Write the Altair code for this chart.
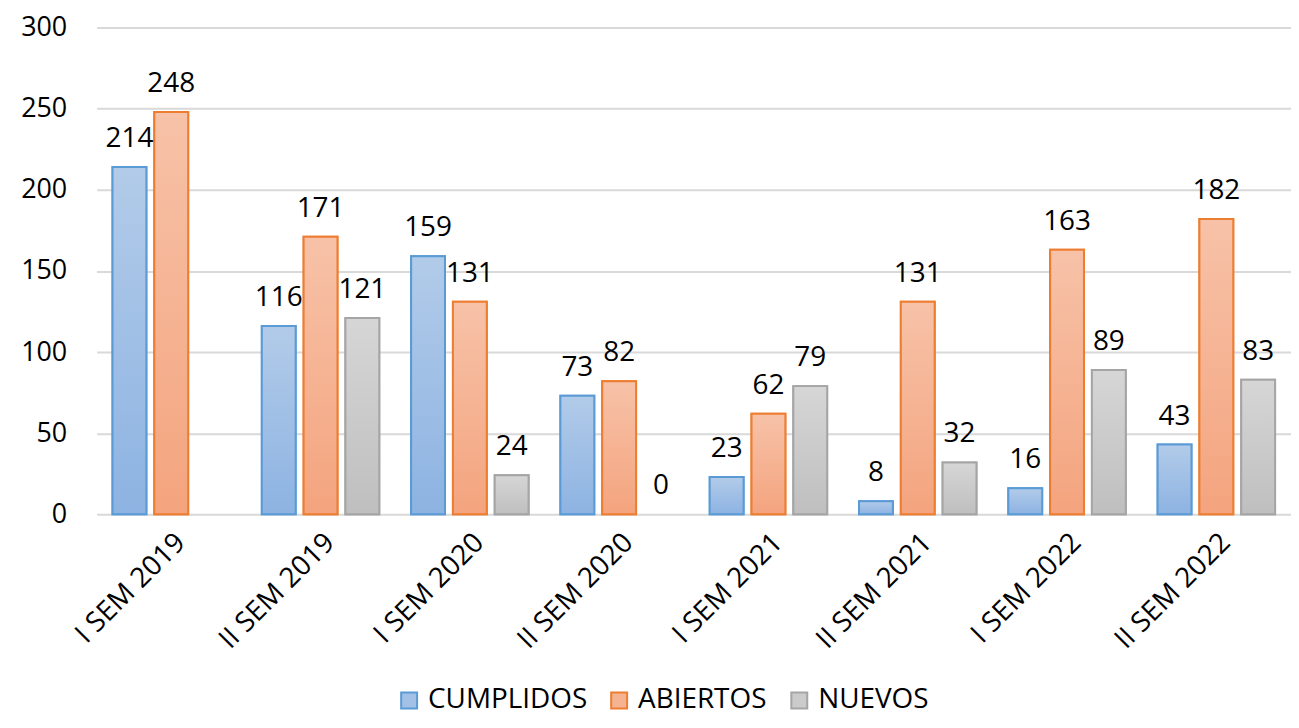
import altair as alt
import pandas as pd

categories = ["I SEM 2019", "II SEM 2019", "I SEM 2020", "II SEM 2020",
              "I SEM 2021", "II SEM 2021", "I SEM 2022", "II SEM 2022"]
series = ["CUMPLIDOS", "ABIERTOS", "NUEVOS"]
cumplidos = [214, 116, 159, 73, 23, 8, 16, 43]
abiertos = [248, 171, 131, 82, 62, 131, 163, 182]
nuevos = [None, 121, 24, 0, 79, 32, 89, 83]

stroke_colors = ["#5B9BD5", "#ED7D31", "#A5A5A5"]
fill_colors = ["#a3c0e6", "#f5b392", "#cbcbcb"]
grad_stops = [("#b2cbe9", "#8db3e2"), ("#f7c2a8", "#f4a47e"), ("#d6d6d6", "#bfbfbf")]

rows = []
for s, vals in zip(series, [cumplidos, abiertos, nuevos]):
    for c, v in zip(categories, vals):
        if v is not None:
            rows.append({"cat": c, "serie": s, "value": v})
df = pd.DataFrame(rows)

FONT = "Open Sans"

x_enc = alt.X("cat:N", sort=categories, title=None,
              scale=alt.Scale(paddingInner=0.2133, paddingOuter=0.1067),
              axis=alt.Axis(labelAngle=-45, labelAlign="right", labelBaseline="top",
                            labelFontSize=28, labelFont=FONT, labelColor="black",
                            domain=False, ticks=False, labelPadding=14, grid=False))
xo_enc = alt.XOffset("serie:N", sort=series,
                     scale=alt.Scale(domain=series, paddingInner=0.19, paddingOuter=0))
y_enc = alt.Y("value:Q", title=None,
              scale=alt.Scale(domain=[0, 300]),
              axis=alt.Axis(values=[0, 50, 100, 150, 200, 250, 300], domain=False, ticks=False,
                            labelFontSize=27, labelFont=FONT, labelColor="black",
                            labelPadding=30, gridColor="#d9d9d9", gridWidth=2))

base = alt.Chart(df).encode(x=x_enc, xOffset=xo_enc, y=y_enc)

leg = dict(title=None, orient="none", direction="horizontal",
           legendX=300, legendY=662, symbolType="square",
           symbolSize=256, symbolStrokeWidth=2,
           labelFontSize=28, labelFont=FONT, labelColor="black", labelLimit=400,
           columnPadding=18, labelOffset=5)

legend_bars = base.transform_filter(alt.datum.value > 0).mark_bar(strokeWidth=2).encode(
    fill=alt.Fill("serie:N", sort=series,
                  scale=alt.Scale(domain=series, range=fill_colors),
                  legend=alt.Legend(**leg)),
    stroke=alt.Stroke("serie:N", sort=series,
                      scale=alt.Scale(domain=series, range=stroke_colors),
                      legend=alt.Legend(**leg)),
)

layers = [legend_bars]
for s, sc, (top, bot) in zip(series, stroke_colors, grad_stops):
    grad = alt.Gradient(gradient="linear",
                        stops=[alt.GradientStop(color=top, offset=0),
                               alt.GradientStop(color=bot, offset=1)],
                        x1=0, x2=0, y1=0, y2=1)
    layers.append(
        base.transform_filter((alt.datum.serie == s) & (alt.datum.value > 0))
        .mark_bar(fill=grad, stroke=sc, strokeWidth=2)
    )

labels = base.mark_text(baseline="alphabetic", dy=-20, fontSize=28, font=FONT,
                        color="black").encode(text="value:Q")
layers.append(labels)

chart = alt.layer(*layers).properties(
    width=1200, height=489,
    background="white",
    autosize=alt.AutoSizeParams(type="none"),
    padding={"left": 89, "top": 18, "right": 0, "bottom": 205},
).configure_view(stroke=None)

chart.save("out.html", embed_options={"renderer": "svg", "actions": False})
